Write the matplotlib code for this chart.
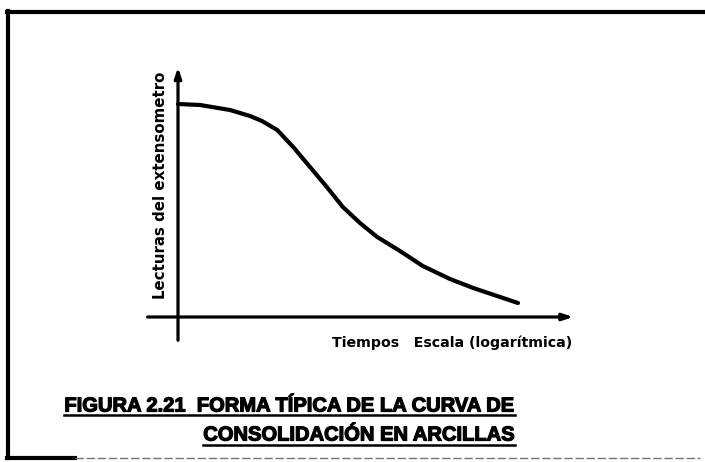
import matplotlib
matplotlib.use("Agg")
import matplotlib.pyplot as plt
import matplotlib.patheffects as pe
from matplotlib.lines import Line2D

# curve (time axis in log units, dial reading)
log_t = [0.0, 0.55, 1.3, 1.8, 2.1, 2.48, 2.88, 3.3, 3.72, 4.12, 4.55, 4.98,
         5.55, 6.12, 6.8, 7.38, 8.5]
lectura = [8.52, 8.48, 8.28, 8.04, 7.84, 7.48, 6.8, 6.0, 5.2, 4.4, 3.76, 3.2,
           2.64, 2.04, 1.52, 1.16, 0.56]

ylabel = "Lecturas del extensometro"
xlabel = "Tiempos   Escala (logarítmica)"
title1 = "FIGURA 2.21  FORMA TÍPICA DE LA CURVA DE"
title2 = "CONSOLIDACIÓN EN ARCILLAS"

W, H = 705, 462
fig = plt.figure(figsize=(W / 100, H / 100), dpi=100)
ax = fig.add_axes([0, 0, 1, 1])
ax.set_xlim(-178 / 40, (W - 178) / 40)
ax.set_ylim(-(H - 317) / 25, 317 / 25)
ax.axis("off")

# axes with arrows
arrow = dict(arrowstyle="-|>,head_length=0.6,head_width=0.2", lw=2.3, color="black")
ax.annotate("", xy=(9.95, 0), xytext=(-0.83, 0), arrowprops=arrow)
ax.annotate("", xy=(0, 10.1), xytext=(0, -1.04), arrowprops=arrow)

ax.plot(log_t, lectura, color="black", lw=3, solid_capstyle="round",
        solid_joinstyle="round")

ax.text(-0.45, 5.25, ylabel, rotation=90, ha="center", va="center",
        fontsize=10.8, fontweight="bold", color="black")
ax.text(6.85, -1.04, xlabel, ha="center", va="center",
        fontsize=10.2, fontweight="bold", color="black")

# frame of the scanned figure
frame = dict(transform=fig.transFigure, color="black", lw=3)
fig.add_artist(Line2D([8 / W, 8 / W], [1 - 11 / H, 1 - 458 / H], **frame))
fig.add_artist(Line2D([7 / W, 1], [1 - 12 / H, 1 - 12 / H], **frame))
fig.add_artist(Line2D([7 / W, 75 / W], [1 - 458 / H, 1 - 458 / H], **frame))
fig.add_artist(Line2D([75 / W, 700 / W], [1 - 458 / H, 1 - 458 / H],
                      transform=fig.transFigure, color="0.45", lw=1.0, ls=(0, (6, 2))))

tfont = dict(family=["Liberation Sans Narrow", "Liberation Sans", "DejaVu Sans"],
             fontweight="bold", fontsize=14.5, color="black",
             path_effects=[pe.withStroke(linewidth=0.9, foreground="black")])
t1 = fig.text(515 / W, 1 - 406 / H, title1, ha="right", va="center", **tfont)
t2 = fig.text(515 / W, 1 - 435 / H, title2, ha="right", va="center", **tfont)

# underline the title lines
fig.canvas.draw()
r = fig.canvas.get_renderer()
for t, uy in ((t1, 415), (t2, 445)):
    bb = t.get_window_extent(r)
    fig.add_artist(Line2D([bb.x0 / W, bb.x1 / W], [1 - uy / H, 1 - uy / H],
                          transform=fig.transFigure, color="black", lw=1.8))

fig.savefig("out.png", dpi=100)
